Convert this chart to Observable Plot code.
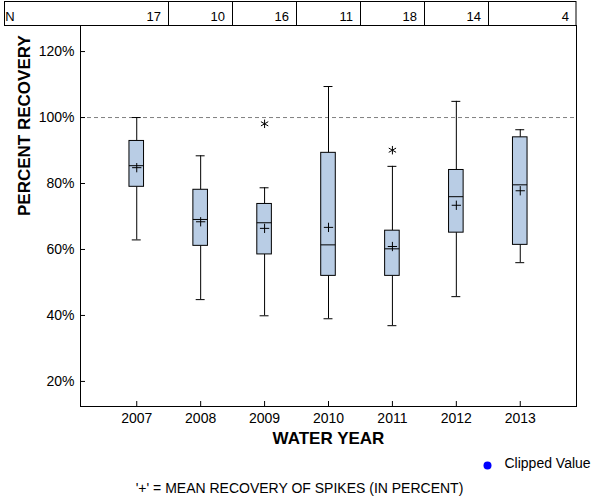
<!DOCTYPE html>
<html><head><meta charset="utf-8">
<script src="https://cdn.jsdelivr.net/npm/d3@7"></script>
<script src="https://cdn.jsdelivr.net/npm/@observablehq/plot@0.6"></script>
<style>body{margin:0;background:#fff}</style>
</head><body><div id="chart"></div>
<script>
const years = [2007, 2008, 2009, 2010, 2011, 2012, 2013];
const nCounts = [17, 10, 16, 11, 18, 14, 4];
const whiskerLow = [62.9, 44.8, 39.9, 39.0, 36.9, 45.7, 56.0];
const q1 = [79.0, 61.1, 58.5, 52.0, 52.0, 65.1, 61.4];
const medians = [85.4, 69.1, 68.1, 61.4, 60.2, 76.0, 79.6];
const q3 = [92.9, 78.1, 73.8, 89.3, 65.7, 84.1, 94.0];
const whiskerHigh = [100.0, 88.4, 78.7, 109.4, 85.2, 104.9, 96.3];
const means = [84.8, 68.4, 66.4, 66.7, 60.9, 73.4, 77.8];
const outlierYears = [2009, 2011];
const outlierValues = [98.1, 90.1];
const yTicks = [20, 40, 60, 80, 100, 120];
const referenceLine = [100];

const stats = years.map((year, i) => ({
  year, n: nCounts[i], low: whiskerLow[i], q1: q1[i], median: medians[i],
  q3: q3[i], high: whiskerHigh[i], mean: means[i]
}));
const outliers = outlierYears.map((year, i) => ({year, value: outlierValues[i]}));

const boxHalf = 0.114, capHalf = 0.07;
const font = "'Liberation Sans', Arial, sans-serif";

const plot = Plot.plot({
  width: 600, height: 500,
  marginTop: 25, marginBottom: 94, marginLeft: 80, marginRight: 24,
  style: {fontFamily: font, fontSize: "14px", color: "#000", background: "#fff", overflow: "visible"},
  x: {type: "linear", domain: [2006.12, 2013.88], label: null},
  y: {domain: [12.4, 127.9], label: null},
  marks: [
    Plot.ruleY(referenceLine, {stroke: "#808080", strokeDasharray: "4,3"}),
    Plot.ruleX(stats, {x: "year", y1: "low", y2: "q1", stroke: "#000"}),
    Plot.ruleX(stats, {x: "year", y1: "q3", y2: "high", stroke: "#000"}),
    Plot.ruleY(stats, {y: "low", x1: d => d.year - capHalf, x2: d => d.year + capHalf, stroke: "#000"}),
    Plot.ruleY(stats, {y: "high", x1: d => d.year - capHalf, x2: d => d.year + capHalf, stroke: "#000"}),
    Plot.rect(stats, {x1: d => d.year - boxHalf, x2: d => d.year + boxHalf, y1: "q1", y2: "q3", fill: "#b9cde5", stroke: "#000", strokeWidth: 1}),
    Plot.ruleY(stats, {y: "median", x1: d => d.year - boxHalf, x2: d => d.year + boxHalf, stroke: "#000"}),
    Plot.dot(stats, {x: "year", y: "mean", symbol: "plus", r: 3.1, stroke: "#000", strokeWidth: 1}),
    Plot.dot(outliers, {x: "year", y: "value", symbol: "asterisk", r: 4, stroke: "#000", strokeWidth: 1}),
    Plot.frame({stroke: "#000"}),
    Plot.axisY({ticks: yTicks, tickSize: 5, dx: 5, tickFormat: () => "", label: null}),
    Plot.axisY({ticks: yTicks, tickSize: 0, tickPadding: 6, tickFormat: d => d + "%", label: null, fontSize: 14}),
    Plot.axisX({ticks: years, tickSize: 5, dy: -5, tickFormat: () => "", label: null}),
    Plot.axisX({ticks: years, tickSize: 0, tickPadding: 7, tickFormat: d => String(d), label: null, fontSize: 14}),
    Plot.text(["PERCENT RECOVERY"], {frameAnchor: "left", dx: -56, rotate: -90, fontWeight: "bold", fontSize: 17, text: d => d}),
    Plot.text(["WATER YEAR"], {frameAnchor: "bottom", dy: 37, fontWeight: "bold", fontSize: 17, text: d => d}),
    Plot.dot(["Clipped Value"], {frameAnchor: "bottom-right", dx: -89, dy: 59, r: 4, fill: "#0000ff", stroke: "none"}),
    Plot.text(["Clipped Value"], {frameAnchor: "bottom-right", dx: -72, dy: 61, textAnchor: "start", fontSize: 14, text: d => d}),
    Plot.text(["'+' = MEAN RECOVERY OF SPIKES (IN PERCENT)"], {frameAnchor: "bottom", dx: -29, dy: 86, fontSize: 14, text: d => d})
  ]
});

document.getElementById("chart").appendChild(plot);

// N table above the frame, aligned to the x scale
const xs = plot.scale("x");
const svg = d3.select(plot);
const bounds = [5, ...years.slice(0, -1).map(y => xs.apply(y + 0.5)), xs.range[1]];
const g = svg.append("g").attr("fill", "none").attr("stroke", "#000");
g.append("rect").attr("x", 4.5).attr("y", 1.5).attr("width", xs.range[1] - 4.5).attr("height", 24);
bounds.slice(1, -1).forEach(b => {
  g.append("line").attr("x1", Math.round(b) + 0.5).attr("x2", Math.round(b) + 0.5).attr("y1", 1.5).attr("y2", 25.5);
});
const t = svg.append("g").attr("font-family", font).attr("font-size", 13).attr("fill", "#000");
t.append("text").attr("x", 10).attr("y", 21).text("N");
stats.forEach((d, i) => {
  t.append("text").attr("x", Math.round(bounds[i + 1]) - 7).attr("y", 21).attr("text-anchor", "end").text(d.n);
});
</script>
</body></html>
